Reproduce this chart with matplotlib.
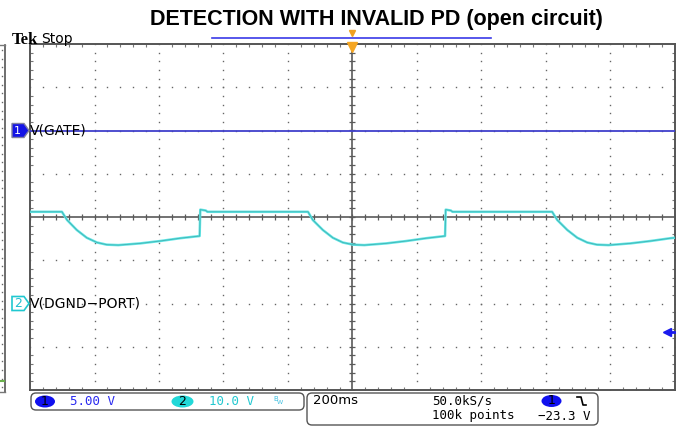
import matplotlib.pyplot as plt
import numpy as np
from matplotlib.patches import FancyBboxPatch, Polygon, Ellipse

# channel settings
ch1_scale = 5.0      # V/div
ch2_scale = 10.0     # V/div
ch1_pos = 2.0        # div
ch2_pos = -2.0       # div
trig_level = -23.3   # V on ch1

# ch1 V(GATE) trace (ms, V)
t_gate = [-1000, 1000]
v_gate = [0.0, 0.0]

# ch2 V(DGND-PORT) trace (ms, V)
t_ch2 = [-1000, -901, -885, -855, -824, -792, -762, -726, -658, -596, -534, -474, -472, -455, -450,
         -138, -123, -92, -61, -30, 2, 37, 105, 167, 229, 287, 289, 305, 310,
         619, 635, 666, 697, 728, 758, 794, 862, 924, 986, 1000]
v_ch2 = [21.2, 21.2, 19.3, 17.0, 15.2, 14.1, 13.6, 13.5, 13.9, 14.45, 15.1, 15.6, 21.7, 21.5, 21.2,
         21.2, 19.3, 17.0, 15.2, 14.1, 13.6, 13.5, 13.9, 14.45, 15.1, 15.6, 21.7, 21.5, 21.2,
         21.2, 19.3, 17.0, 15.2, 14.1, 13.6, 13.5, 13.9, 14.45, 15.1, 15.2]

fig = plt.figure(figsize=(6.79, 4.29), dpi=100)
fig.patch.set_facecolor('white')

# graticule area
L, R, T, B = 30, 675, 44, 390
ax = fig.add_axes([L/679, 1-B/429, (R-L)/679, (B-T)/429])
ax.set_xlim(-1000, 1000)
ax.set_ylim(-4, 4)
ax.set_xticks(np.arange(-1000, 1001, 200))
ax.set_xticks(np.arange(-1000, 1001, 40), minor=True)
ax.set_yticks(np.arange(-4, 5, 1))
ax.set_yticks(np.arange(-4, 4.01, 0.2), minor=True)
ax.tick_params(which='both', direction='in', top=True, right=True,
               labelbottom=False, labelleft=False, color='#777777')
ax.tick_params(which='major', length=0)
ax.tick_params(which='minor', length=2.5, width=0.8)
for s in ax.spines.values():
    s.set_color('#555555')
    s.set_linewidth(1.4)

# dotted grid
gx = np.arange(-1000, 1001, 40)
gy = np.arange(-4, 4.01, 0.2)
for yy in [-3, -2, -1, 1, 2, 3]:
    ax.plot(gx, np.full(len(gx), yy), ls='none', marker='s', ms=1.0, mew=0, color='#666666')
for xx in [-800, -600, -400, -200, 200, 400, 600, 800]:
    ax.plot(np.full(len(gy), xx), gy, ls='none', marker='s', ms=1.0, mew=0, color='#666666')

# centre cross with ticks
ax.axhline(0, color='#5a5a5a', lw=1.2)
ax.axvline(0, color='#5a5a5a', lw=1.2)
ax.plot(gx, np.zeros(len(gx)), ls='none', marker='|', ms=5, mew=0.9, color='#5a5a5a')
ax.plot(np.zeros(len(gy)), gy, ls='none', marker='_', ms=5, mew=0.9, color='#5a5a5a')

# traces
ax.plot(t_gate, ch1_pos + np.array(v_gate)/ch1_scale, color='#4040cc', lw=1.3, zorder=5)
y2 = ch2_pos + np.array(v_ch2)/ch2_scale
ax.plot(t_ch2, y2, color='#62e6e6', lw=1.8, zorder=6)
ax.plot(t_ch2, y2, color='#1f8080', lw=0.6, alpha=0.5, zorder=7)

# trigger position marker
ax.plot([0], [3.94], marker='v', ms=7, color='#f5a623', mec='#f5a623', clip_on=False, zorder=8)

# overlay in pixel coordinates
ov = fig.add_axes([0, 0, 1, 1], zorder=5)
ov.set_xlim(0, 679)
ov.set_ylim(429, 0)
ov.axis('off')
ov.patch.set_alpha(0)


def div_to_px(d):
    return B - (d + 4) * (B - T) / 8


# title and header
ov.text(376, 25.5, 'DETECTION WITH INVALID PD (open circuit)', ha='center', va='baseline',
        fontsize=15.5, fontweight='bold', family='Liberation Sans')
ov.text(12, 44, 'Tek', family='Liberation Serif', fontweight='bold', fontsize=12, va='baseline')
ov.text(41, 43, 'Stop', family='DejaVu Sans', fontsize=10, va='baseline')
ov.plot([212, 491], [37.5, 37.5], color='#3a3ae8', lw=1.2)
ov.plot([352], [33], marker='v', ms=4.5, color='#f0a020')

# partial neighbouring panel on the far left
ov.plot([5, 5], [45, 392], color='#555555', lw=1.2)
ov.plot([0, 5], [45, 45], color='#777777', lw=1)
ov.plot([0, 5], [392, 392], color='#777777', lw=1)
ov.plot(np.full(40, 2.0), np.arange(50, 390, 8.65), ls='none', marker='s', ms=1.0, mew=0, color='#666666')
ov.plot([0, 4], [381, 381], color='#6ab04c', lw=1.5)

# channel ground markers and labels
y1 = div_to_px(ch1_pos)
ov.add_patch(Polygon([(12, y1-7), (24, y1-7), (29, y1), (24, y1+7), (12, y1+7)],
                     closed=True, fc='#1414e6', ec='#8080a0', lw=1))
ov.text(17, y1, '1', color='white', fontsize=8, ha='center', va='center')
ov.text(30, y1, 'V(GATE)', fontsize=10, va='center', family='DejaVu Sans')

y2p = div_to_px(ch2_pos)
ov.add_patch(Polygon([(12, y2p-7), (24, y2p-7), (29, y2p), (24, y2p+7), (12, y2p+7)],
                     closed=True, fc='white', ec='#20c8d0', lw=1.2))
ov.text(18, y2p, '2', color='#20c0d0', fontsize=9, ha='center', va='center')
ov.text(30, y2p, 'V(DGND\u2212PORT)', fontsize=10, va='center', family='DejaVu Sans')

# trigger level arrow on the right
yt = div_to_px(ch1_pos + trig_level/ch1_scale)
ov.plot([668, 674], [yt, yt], color='#1a1aee', lw=2)
ov.plot([667], [yt], marker='<', ms=6, color='#1a1aee')

# status boxes
ov.add_patch(FancyBboxPatch((31, 393), 273, 17, boxstyle='round,pad=0,rounding_size=5',
                            fc='white', ec='#555555', lw=1))
ov.add_patch(FancyBboxPatch((307, 393), 291, 32, boxstyle='round,pad=0,rounding_size=5',
                            fc='white', ec='#555555', lw=1))
ov.add_patch(Ellipse((45, 401.5), 20, 12, fc='#1010ee', ec='none'))
ov.text(45, 401.5, '1', fontsize=9, ha='center', va='center')
ov.text(70, 401.5, '5.00 V', color='#2a2af0', fontsize=9, va='center', family='DejaVu Sans Mono')
ov.add_patch(Ellipse((182.5, 401.5), 22, 12, fc='#22d8d8', ec='none'))
ov.text(182.5, 401.5, '2', fontsize=9, ha='center', va='center')
ov.text(209, 401.5, '10.0 V', color='#22c8d0', fontsize=9, va='center', family='DejaVu Sans Mono')
ov.text(273, 399, 'B', color='#40c0e0', fontsize=5, va='center')
ov.text(277, 403, 'W', color='#40c0e0', fontsize=4.5, va='center')

ov.text(313, 401, '200ms', fontsize=9.5, va='center', family='DejaVu Sans')
ov.text(432, 401, '50.0kS/s', fontsize=9, va='center', family='DejaVu Sans Mono')
ov.text(432, 416, '100k points', fontsize=9, va='center', family='DejaVu Sans Mono')
ov.add_patch(Ellipse((551.5, 401), 20, 12, fc='#1010ee', ec='none'))
ov.text(551.5, 401, '1', fontsize=9, ha='center', va='center')
ov.plot([577, 581, 583, 586], [397, 397, 405, 405], color='black', lw=1.2)
ov.text(538, 416, '\u221223.3 V', fontsize=9, va='center', family='DejaVu Sans Mono')

fig.savefig('out.png', dpi=100)
